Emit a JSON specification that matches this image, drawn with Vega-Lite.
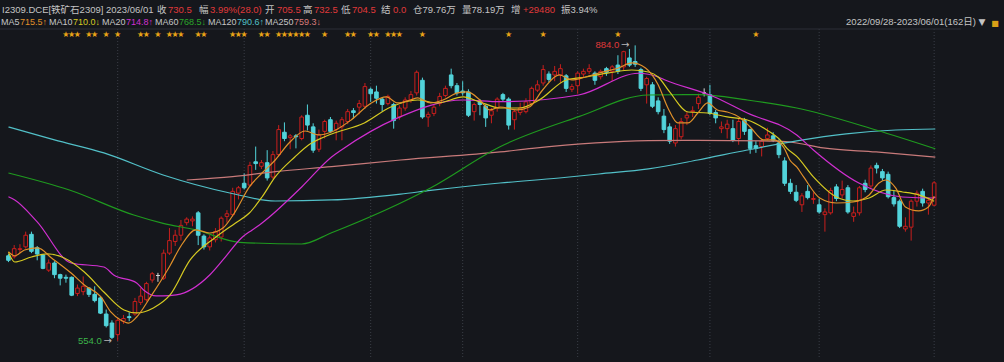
{
"$schema":"https://vega.github.io/schema/vega-lite/v6.json",
"width":961,"height":329,"autosize":"none",
"padding":{"left":0,"top":29,"right":43,"bottom":4},
"background":"#15171c",
"config":{"view":{"stroke":null},"text":{"font":"Liberation Sans, Noto Sans CJK SC"}},
"datasets":{
"k":[
{"i":0,"o":649,"h":651,"l":642,"c":644},{"i":1,"o":648,"h":661,"l":646,"c":657},{"i":2,"o":656,"h":662,"l":652,"c":657},{"i":3,"o":659,"h":676,"l":657,"c":672},{"i":4,"o":673,"h":676,"l":652,"c":654},{"i":5,"o":658,"h":660,"l":644,"c":651},{"i":6,"o":650,"h":651,"l":634,"c":635},{"i":7,"o":633,"h":645,"l":631,"c":641},{"i":8,"o":641,"h":643,"l":624,"c":628},{"i":9,"o":628,"h":629,"l":616,"c":624},
{"i":10,"o":625,"h":628,"l":619,"c":624},{"i":11,"o":625,"h":626,"l":604,"c":605},{"i":12,"o":607,"h":617,"l":604,"c":613},{"i":13,"o":609,"h":626,"l":605,"c":615},{"i":14,"o":613,"h":614,"l":603,"c":606},{"i":15,"o":606,"h":615,"l":597,"c":599},{"i":16,"o":602,"h":604,"l":584,"c":585},{"i":17,"o":584,"h":589,"l":569,"c":571},{"i":18,"o":574,"h":577,"l":556,"c":558},{"i":19,"o":561,"h":580,"l":554,"c":577},
{"i":20,"o":576,"h":583,"l":573,"c":579},{"i":21,"o":581,"h":586,"l":576,"c":580},{"i":22,"o":584,"h":602,"l":582,"c":598},{"i":23,"o":597,"h":613,"l":594,"c":604},{"i":24,"o":600,"h":620,"l":598,"c":618},{"i":25,"o":622,"h":631,"l":619,"c":629},{"i":26,"o":627,"h":630,"l":620,"c":627},{"i":27,"o":624,"h":656,"l":622,"c":652},{"i":28,"o":652,"h":680,"l":650,"c":666},{"i":29,"o":665,"h":678,"l":660,"c":672},
{"i":30,"o":672,"h":689,"l":666,"c":683},{"i":31,"o":686,"h":692,"l":683,"c":690},{"i":32,"o":688,"h":693,"l":682,"c":690},{"i":33,"o":697,"h":699,"l":661,"c":672},{"i":34,"o":671,"h":673,"l":656,"c":659},{"i":35,"o":659,"h":672,"l":655,"c":669},{"i":36,"o":667,"h":680,"l":664,"c":676},{"i":37,"o":670,"h":693,"l":665,"c":691},{"i":38,"o":693,"h":700,"l":686,"c":696},{"i":39,"o":695,"h":725,"l":693,"c":721},
{"i":40,"o":719,"h":727,"l":712,"c":725},{"i":41,"o":730,"h":741,"l":723,"c":725},{"i":42,"o":728,"h":754,"l":726,"c":750},{"i":43,"o":754,"h":771,"l":745,"c":752},{"i":44,"o":749,"h":756,"l":746,"c":753},{"i":45,"o":753,"h":767,"l":733,"c":736},{"i":46,"o":737,"h":766,"l":735,"c":762},{"i":47,"o":762,"h":795,"l":760,"c":790},{"i":48,"o":787,"h":798,"l":777,"c":780},{"i":49,"o":781,"h":785,"l":768,"c":783},
{"i":50,"o":783,"h":785,"l":769,"c":782},{"i":51,"o":780,"h":806,"l":778,"c":804},{"i":52,"o":806,"h":818,"l":789,"c":795},{"i":53,"o":793,"h":797,"l":764,"c":767},{"i":54,"o":768,"h":790,"l":765,"c":784},{"i":55,"o":788,"h":801,"l":780,"c":799},{"i":56,"o":801,"h":804,"l":786,"c":788},{"i":57,"o":790,"h":800,"l":778,"c":797},{"i":58,"o":793,"h":804,"l":778,"c":801},{"i":59,"o":799,"h":813,"l":796,"c":810},
{"i":60,"o":811,"h":814,"l":802,"c":809},{"i":61,"o":815,"h":823,"l":807,"c":819},{"i":62,"o":816,"h":842,"l":813,"c":838},{"i":63,"o":835,"h":837,"l":821,"c":830},{"i":64,"o":832,"h":839,"l":819,"c":825},{"i":65,"o":824,"h":826,"l":810,"c":818},{"i":66,"o":819,"h":829,"l":817,"c":827},{"i":67,"o":818,"h":820,"l":791,"c":800},{"i":68,"o":804,"h":817,"l":801,"c":814},{"i":69,"o":814,"h":826,"l":811,"c":823},
{"i":70,"o":823,"h":833,"l":820,"c":829},{"i":71,"o":831,"h":856,"l":828,"c":854},{"i":72,"o":845,"h":848,"l":802,"c":804},{"i":73,"o":804,"h":810,"l":793,"c":807},{"i":74,"o":808,"h":818,"l":805,"c":815},{"i":75,"o":819,"h":831,"l":816,"c":827},{"i":76,"o":828,"h":839,"l":826,"c":836},{"i":77,"o":851,"h":858,"l":836,"c":839},{"i":78,"o":839,"h":842,"l":828,"c":831},{"i":79,"o":833,"h":844,"l":828,"c":831},
{"i":80,"o":832,"h":835,"l":804,"c":806},{"i":81,"o":810,"h":820,"l":800,"c":818},{"i":82,"o":821,"h":824,"l":806,"c":818},{"i":83,"o":816,"h":818,"l":793,"c":803},{"i":84,"o":806,"h":814,"l":797,"c":811},{"i":85,"o":814,"h":826,"l":810,"c":824},{"i":86,"o":829,"h":831,"l":821,"c":824},{"i":87,"o":824,"h":826,"l":790,"c":795},{"i":88,"o":801,"h":812,"l":790,"c":810},{"i":89,"o":809,"h":820,"l":806,"c":814},
{"i":90,"o":810,"h":825,"l":808,"c":821},{"i":91,"o":819,"h":838,"l":817,"c":836},{"i":92,"o":834,"h":845,"l":832,"c":840},{"i":93,"o":842,"h":862,"l":839,"c":857},{"i":94,"o":852,"h":855,"l":843,"c":846},{"i":95,"o":851,"h":861,"l":844,"c":855},{"i":96,"o":851,"h":863,"l":842,"c":858},{"i":97,"o":850,"h":852,"l":832,"c":836},{"i":98,"o":835,"h":841,"l":832,"c":838},{"i":99,"o":839,"h":855,"l":830,"c":853},
{"i":100,"o":852,"h":858,"l":848,"c":855},{"i":101,"o":855,"h":863,"l":852,"c":858},{"i":102,"o":853,"h":855,"l":840,"c":845},{"i":103,"o":849,"h":857,"l":846,"c":855},{"i":104,"o":858,"h":860,"l":850,"c":854},{"i":105,"o":855,"h":862,"l":844,"c":860},{"i":106,"o":862,"h":873,"l":852,"c":855},{"i":107,"o":860,"h":878,"l":856,"c":877},{"i":108,"o":870,"h":880,"l":860,"c":862},{"i":109,"o":866,"h":884,"l":860,"c":863},
{"i":110,"o":857,"h":859,"l":833,"c":836},{"i":111,"o":840,"h":849,"l":819,"c":847},{"i":112,"o":840,"h":843,"l":814,"c":816},{"i":113,"o":822,"h":826,"l":807,"c":810},{"i":114,"o":805,"h":813,"l":786,"c":790},{"i":115,"o":793,"h":797,"l":774,"c":777},{"i":116,"o":775,"h":795,"l":771,"c":791},{"i":117,"o":782,"h":803,"l":779,"c":799},{"i":118,"o":803,"h":810,"l":795,"c":806},{"i":119,"o":810,"h":816,"l":804,"c":811},
{"i":120,"o":819,"h":830,"l":813,"c":826},{"i":121,"o":831,"h":836,"l":827,"c":831},{"i":122,"o":829,"h":840,"l":806,"c":808},{"i":123,"o":809,"h":812,"l":797,"c":803},{"i":124,"o":791,"h":799,"l":786,"c":793},{"i":125,"o":791,"h":801,"l":780,"c":796},{"i":126,"o":791,"h":801,"l":776,"c":778},{"i":127,"o":780,"h":802,"l":773,"c":799},{"i":128,"o":800,"h":803,"l":784,"c":788},{"i":129,"o":790,"h":791,"l":763,"c":769},
{"i":130,"o":772,"h":777,"l":764,"c":769},{"i":131,"o":771,"h":780,"l":760,"c":777},{"i":132,"o":780,"h":792,"l":778,"c":784},{"i":133,"o":783,"h":787,"l":776,"c":778},{"i":134,"o":775,"h":779,"l":758,"c":762},{"i":135,"o":755,"h":759,"l":727,"c":730},{"i":136,"o":730,"h":735,"l":718,"c":721},{"i":137,"o":720,"h":728,"l":709,"c":711},{"i":138,"o":706,"h":719,"l":698,"c":716},{"i":139,"o":721,"h":728,"l":712,"c":714},
{"i":140,"o":712,"h":720,"l":707,"c":713},{"i":141,"o":706,"h":713,"l":696,"c":698},{"i":142,"o":695,"h":702,"l":676,"c":698},{"i":143,"o":697,"h":725,"l":695,"c":722},{"i":144,"o":726,"h":729,"l":710,"c":713},{"i":145,"o":717,"h":733,"l":713,"c":723},{"i":146,"o":725,"h":728,"l":696,"c":698},{"i":147,"o":693,"h":704,"l":687,"c":697},{"i":148,"o":697,"h":727,"l":694,"c":725},{"i":149,"o":730,"h":734,"l":720,"c":723},
{"i":150,"o":727,"h":750,"l":724,"c":747},{"i":151,"o":750,"h":753,"l":741,"c":747},{"i":152,"o":743,"h":746,"l":733,"c":736},{"i":153,"o":740,"h":743,"l":713,"c":715},{"i":154,"o":714,"h":722,"l":704,"c":707},{"i":155,"o":710,"h":712,"l":680,"c":682},{"i":156,"o":679,"h":692,"l":676,"c":682},{"i":157,"o":681,"h":712,"l":666,"c":710},{"i":158,"o":710,"h":722,"l":704,"c":719},{"i":159,"o":721,"h":724,"l":704,"c":708},
{"i":160,"o":708,"h":714,"l":695,"c":711},{"i":161,"o":705.5,"h":732.5,"l":704.5,"c":730.5}
],
"ma":[
{"s":"MA250","i":31,"v":733.7},{"s":"MA250","i":39,"v":737.4},{"s":"MA250","i":46.4,"v":743},{"s":"MA250","i":56.2,"v":748.6},{"s":"MA250","i":68.2,"v":756},{"s":"MA250","i":85.5,"v":765},{"s":"MA250","i":91.1,"v":769},{"s":"MA250","i":111.3,"v":777.6},{"s":"MA250","i":119.9,"v":778},{"s":"MA250","i":133.7,"v":777},{"s":"MA250","i":137.1,"v":775},{"s":"MA250","i":141.7,"v":769.5},{"s":"MA250","i":150.9,"v":765},{"s":"MA250","i":161.2,"v":759.3},
{"s":"MA120","i":0,"v":792.9},{"s":"MA120","i":8,"v":778.4},{"s":"MA120","i":16.6,"v":763.9},{"s":"MA120","i":26.9,"v":739.3},{"s":"MA120","i":38.5,"v":719.2},{"s":"MA120","i":46.4,"v":710.2},{"s":"MA120","i":56.2,"v":711.4},{"s":"MA120","i":68.2,"v":718},{"s":"MA120","i":73.4,"v":722},{"s":"MA120","i":85.5,"v":730.3},{"s":"MA120","i":95.8,"v":735.9},{"s":"MA120","i":102.7,"v":740.4},{"s":"MA120","i":111.3,"v":746},{"s":"MA120","i":119.9,"v":756},{"s":"MA120","i":128.5,"v":767.2},{"s":"MA120","i":137.1,"v":777.3},{"s":"MA120","i":145.7,"v":785.1},{"s":"MA120","i":154.3,"v":789.5},{"s":"MA120","i":161.2,"v":790.6},
{"s":"MA60","i":0,"v":741.5},{"s":"MA60","i":10.6,"v":722.5},{"s":"MA60","i":21.8,"v":694.6},{"s":"MA60","i":26.9,"v":685.3},{"s":"MA60","i":32.6,"v":677.9},{"s":"MA60","i":40.2,"v":664.1},{"s":"MA60","i":51,"v":662.2},{"s":"MA60","i":56.2,"v":674.8},{"s":"MA60","i":73.4,"v":724.8},{"s":"MA60","i":85.5,"v":770.9},{"s":"MA60","i":99.2,"v":804.4},{"s":"MA60","i":111.3,"v":828.6},{"s":"MA60","i":119.9,"v":829},{"s":"MA60","i":128.5,"v":823},{"s":"MA60","i":137.1,"v":814.1},{"s":"MA60","i":150.9,"v":789.5},{"s":"MA60","i":161.2,"v":768.5},
{"s":"MA20","i":0,"v":715},{"s":"MA20","i":1.1,"v":711.4},{"s":"MA20","i":5,"v":687},{"s":"MA20","i":10.9,"v":641},{"s":"MA20","i":16.6,"v":636.5},{"s":"MA20","i":18.3,"v":627.6},{"s":"MA20","i":22.3,"v":618.7},{"s":"MA20","i":23.5,"v":610.9},{"s":"MA20","i":25.7,"v":604.2},{"s":"MA20","i":26.9,"v":604.2},{"s":"MA20","i":29.2,"v":605.3},{"s":"MA20","i":35,"v":627.6},{"s":"MA20","i":37.3,"v":644.4},{"s":"MA20","i":40.7,"v":670},{"s":"MA20","i":42.4,"v":677.9},{"s":"MA20","i":44.1,"v":685.7},{"s":"MA20","i":51,"v":725.9},{"s":"MA20","i":56.2,"v":759.4},{"s":"MA20","i":57.9,"v":767.2},{"s":"MA20","i":67.7,"v":803},{"s":"MA20","i":79.1,"v":823},{"s":"MA20","i":85.5,"v":821.1},{"s":"MA20","i":99.2,"v":828.6},{"s":"MA20","i":109.6,"v":852.9},{"s":"MA20","i":113,"v":848.7},{"s":"MA20","i":114.2,"v":845.4},{"s":"MA20","i":122.8,"v":826.4},{"s":"MA20","i":128.5,"v":808.5},{"s":"MA20","i":137.1,"v":784},{"s":"MA20","i":140,"v":767.2},{"s":"MA20","i":147.9,"v":730.3},{"s":"MA20","i":155.5,"v":714.7},{"s":"MA20","i":160.8,"v":713.6},{"s":"MA20","i":161.2,"v":714.8},
{"s":"MA10","i":0,"v":653},{"s":"MA10","i":1.1,"v":642.1},{"s":"MA10","i":4,"v":647.7},{"s":"MA10","i":6.8,"v":651.1},{"s":"MA10","i":9.7,"v":646.6},{"s":"MA10","i":13.2,"v":630.9},{"s":"MA10","i":16.6,"v":608.6},{"s":"MA10","i":20.1,"v":588.5},{"s":"MA10","i":22.3,"v":585.2},{"s":"MA10","i":25.2,"v":590.8},{"s":"MA10","i":28.1,"v":605.3},{"s":"MA10","i":31.6,"v":644.4},{"s":"MA10","i":36.1,"v":670},{"s":"MA10","i":39.5,"v":685.7},{"s":"MA10","i":41.9,"v":696.8},{"s":"MA10","i":44.1,"v":714.7},{"s":"MA10","i":46.4,"v":737.1},{"s":"MA10","i":49.8,"v":759.4},{"s":"MA10","i":52.2,"v":772.8},{"s":"MA10","i":54.5,"v":780.6},{"s":"MA10","i":56.2,"v":785.1},{"s":"MA10","i":61.9,"v":797.4},{"s":"MA10","i":66.5,"v":815.2},{"s":"MA10","i":71.2,"v":823},{"s":"MA10","i":74.6,"v":819.7},{"s":"MA10","i":79.1,"v":826.4},{"s":"MA10","i":82,"v":820.8},{"s":"MA10","i":85.5,"v":814.1},{"s":"MA10","i":88.9,"v":814.1},{"s":"MA10","i":92.3,"v":823},{"s":"MA10","i":97,"v":845.4},{"s":"MA10","i":100.4,"v":848.7},{"s":"MA10","i":104.4,"v":853.2},{"s":"MA10","i":108.4,"v":856.5},{"s":"MA10","i":111.3,"v":854.3},{"s":"MA10","i":113,"v":848.7},{"s":"MA10","i":115,"v":832},{"s":"MA10","i":118.2,"v":809.6},{"s":"MA10","i":121.6,"v":808.5},{"s":"MA10","i":125,"v":804.1},{"s":"MA10","i":128.5,"v":800.7},{"s":"MA10","i":131.9,"v":789.5},{"s":"MA10","i":134.2,"v":778.4},{"s":"MA10","i":135.4,"v":769},{"s":"MA10","i":137.1,"v":760},{"s":"MA10","i":140,"v":737.1},{"s":"MA10","i":144,"v":714.7},{"s":"MA10","i":146.9,"v":710.2},{"s":"MA10","i":149.7,"v":713.6},{"s":"MA10","i":152.6,"v":722.5},{"s":"MA10","i":155.5,"v":720.3},{"s":"MA10","i":158.3,"v":717},{"s":"MA10","i":161,"v":710},
{"s":"MA5","i":0,"v":653.6},{"s":"MA5","i":1.1,"v":649},{"s":"MA5","i":2.8,"v":655.5},{"s":"MA5","i":5.1,"v":657.8},{"s":"MA5","i":7.5,"v":646.6},{"s":"MA5","i":10.9,"v":629.8},{"s":"MA5","i":13.2,"v":616.4},{"s":"MA5","i":16.1,"v":603.1},{"s":"MA5","i":17.8,"v":586.3},{"s":"MA5","i":19.5,"v":577.3},{"s":"MA5","i":20.9,"v":573.9},{"s":"MA5","i":22.3,"v":580.7},{"s":"MA5","i":24.7,"v":603.1},{"s":"MA5","i":28.1,"v":638},{"s":"MA5","i":30,"v":660},{"s":"MA5","i":32.6,"v":678},{"s":"MA5","i":35,"v":674.5},{"s":"MA5","i":37.3,"v":680},{"s":"MA5","i":39.5,"v":699},{"s":"MA5","i":41.9,"v":726},{"s":"MA5","i":44.1,"v":741.5},{"s":"MA5","i":46.4,"v":756},{"s":"MA5","i":48.8,"v":775},{"s":"MA5","i":51.6,"v":788.4},{"s":"MA5","i":53.96,"v":784},{"s":"MA5","i":56.2,"v":787.3},{"s":"MA5","i":59.6,"v":800.7},{"s":"MA5","i":63.1,"v":819.7},{"s":"MA5","i":65.7,"v":826.4},{"s":"MA5","i":67.7,"v":819.7},{"s":"MA5","i":69.9,"v":823},{"s":"MA5","i":71.2,"v":825.3},{"s":"MA5","i":73.4,"v":819.7},{"s":"MA5","i":75.6,"v":823},{"s":"MA5","i":78.1,"v":830.9},{"s":"MA5","i":79.8,"v":832},{"s":"MA5","i":82,"v":823},{"s":"MA5","i":83.7,"v":811.9},{"s":"MA5","i":85.5,"v":815.2},{"s":"MA5","i":88.4,"v":811.9},{"s":"MA5","i":90.6,"v":815.2},{"s":"MA5","i":92.9,"v":834.2},{"s":"MA5","i":95.8,"v":851},{"s":"MA5","i":98,"v":845.4},{"s":"MA5","i":100.4,"v":848.7},{"s":"MA5","i":102.7,"v":853.2},{"s":"MA5","i":106.1,"v":858.8},{"s":"MA5","i":108.4,"v":864.4},{"s":"MA5","i":110.8,"v":858.8},{"s":"MA5","i":113,"v":840},{"s":"MA5","i":114.7,"v":814.1},{"s":"MA5","i":116.4,"v":797.4},{"s":"MA5","i":118.2,"v":797.4},{"s":"MA5","i":119.9,"v":808.5},{"s":"MA5","i":121.6,"v":819.7},{"s":"MA5","i":123.3,"v":811.9},{"s":"MA5","i":125,"v":809.6},{"s":"MA5","i":127.3,"v":803},{"s":"MA5","i":129,"v":792.9},{"s":"MA5","i":131.4,"v":778.4},{"s":"MA5","i":133.1,"v":778.4},{"s":"MA5","i":134.9,"v":769.4},{"s":"MA5","i":135.9,"v":756},{"s":"MA5","i":137.1,"v":748.2},{"s":"MA5","i":138.3,"v":737.1},{"s":"MA5","i":141.1,"v":713.6},{"s":"MA5","i":144,"v":708},{"s":"MA5","i":146.9,"v":709.1},{"s":"MA5","i":149.7,"v":717},{"s":"MA5","i":151.4,"v":730.3},{"s":"MA5","i":152.6,"v":733.7},{"s":"MA5","i":154.3,"v":724.8},{"s":"MA5","i":156,"v":703.5},{"s":"MA5","i":158.3,"v":699.1},{"s":"MA5","i":160,"v":703.5},{"s":"MA5","i":161,"v":715.5}
],
"months":[{"i":19},{"i":41},{"i":63},{"i":79},{"i":99},{"i":122},{"i":141},{"i":161}],
"stars":[{"i":10},{"i":11},{"i":12},{"i":14},{"i":15},{"i":17},{"i":19},{"i":23},{"i":24},{"i":26},{"i":28},{"i":29},{"i":30},{"i":33},{"i":34},{"i":39},{"i":40},{"i":41},{"i":44},{"i":45},{"i":47},{"i":48},{"i":49},{"i":50},{"i":51},{"i":52},{"i":55},{"i":59},{"i":60},{"i":63},{"i":64},{"i":66},{"i":67},{"i":68},{"i":72},{"i":87},{"i":93},{"i":106},{"i":130}],
"ann":[{"i":109,"v":884,"t":"884.0","k":"hi"},{"i":19,"v":554,"t":"554.0","k":"lo"}]
},
"layer":[
{"data":{"name":"months"},"mark":{"type":"rule","color":"#3a3e47","strokeDash":[1,2],"strokeWidth":1},
 "encoding":{"x":{"field":"i","type":"quantitative","scale":{"type":"linear","domain":[-0.6,164.8],"nice":false,"zero":false},"axis":null}}},
{"data":{"values":[{}]},"mark":{"type":"rule","color":"#2c2f36","strokeWidth":1},
 "encoding":{"y":{"datum":902.3,"type":"quantitative","scale":{"type":"linear","domain":[534.9,902.3],"nice":false,"zero":false},"axis":null}}},
{"data":{"name":"k"},"mark":{"type":"rule","strokeWidth":1},
 "encoding":{
  "x":{"field":"i","type":"quantitative","scale":{"type":"linear","domain":[-0.6,164.8],"nice":false,"zero":false},"axis":null},
  "y":{"field":"l","type":"quantitative","scale":{"type":"linear","domain":[534.9,902.3],"nice":false,"zero":false},
   "axis":{"orient":"right","values":[555,620,685,750,815,880],"grid":true,"gridColor":"#3b3f48","gridDash":[1,2],"ticks":false,"domain":true,"domainColor":"#3b3e45","labelColor":"#a7a8ab","labelFontSize":10,"labelFont":"Liberation Sans","labelPadding":4,"title":null}},
  "y2":{"field":"h"},
  "color":{"condition":[{"test":"datum.c == datum.o","value":"#d8d8d8"},{"test":"datum.c > datum.o","value":"#c81f1d"}],"value":"#52d3da"}}},
{"data":{"name":"k"},"mark":{"type":"bar","size":3.6,"strokeWidth":1},
 "encoding":{
  "x":{"field":"i","type":"quantitative","scale":{"type":"linear","domain":[-0.6,164.8],"nice":false,"zero":false},"axis":null},
  "y":{"field":"o","type":"quantitative","scale":{"type":"linear","domain":[534.9,902.3],"nice":false,"zero":false},"axis":null},
  "y2":{"field":"c"},
  "fill":{"condition":[{"test":"datum.c == datum.o","value":"#d8d8d8"},{"test":"datum.c > datum.o","value":"#15171c"}],"value":"#52d3da"},
  "stroke":{"condition":[{"test":"datum.c == datum.o","value":"#d8d8d8"},{"test":"datum.c > datum.o","value":"#c81f1d"}],"value":"#52d3da"}}},
{"data":{"name":"ma"},"mark":{"type":"line","strokeWidth":1.2,"interpolate":"monotone","clip":true},
 "encoding":{
  "x":{"field":"i","type":"quantitative","scale":{"type":"linear","domain":[-0.6,164.8],"nice":false,"zero":false},"axis":null},
  "y":{"field":"v","type":"quantitative","scale":{"type":"linear","domain":[534.9,902.3],"nice":false,"zero":false},"axis":null},
  "color":{"field":"s","type":"nominal","scale":{"domain":["MA5","MA10","MA20","MA60","MA120","MA250"],"range":["#e0902a","#d6ca22","#d02fd0","#1f9a1f","#52c0c8","#c87a7a"]},"legend":null}}},
{"data":{"name":"ann"},"mark":{"type":"text","align":"right","baseline":"middle","dx":-16,"fontSize":9.5},
 "encoding":{
  "x":{"field":"i","type":"quantitative","scale":{"type":"linear","domain":[-0.6,164.8],"nice":false,"zero":false},"axis":null},
  "y":{"field":"v","type":"quantitative","scale":{"type":"linear","domain":[534.9,902.3],"nice":false,"zero":false},"axis":null},
  "text":{"field":"t"},
  "color":{"condition":{"test":"datum.k == 'hi'","value":"#e0393a"},"value":"#3cb44a"}}},
{"data":{"name":"ann"},"mark":{"type":"text","align":"center","baseline":"middle","dx":-10,"fontSize":10,"font":"DejaVu Sans","text":"→","color":"#b8b8b8"},
 "encoding":{
  "x":{"field":"i","type":"quantitative","scale":{"type":"linear","domain":[-0.6,164.8],"nice":false,"zero":false},"axis":null},
  "y":{"field":"v","type":"quantitative","scale":{"type":"linear","domain":[534.9,902.3],"nice":false,"zero":false},"axis":null}}},
{"data":{"name":"stars"},"mark":{"type":"text","text":"★","font":"DejaVu Sans","fontSize":8,"color":"#e8a317","baseline":"middle"},
 "encoding":{
  "x":{"field":"i","type":"quantitative","scale":{"type":"linear","domain":[-0.6,164.8],"nice":false,"zero":false},"axis":null},
  "y":{"value":6}}},
{"data":{"values":[{}]},"mark":{"type":"text","text":"I2309.DCE[铁矿石2309]","x":2,"y":-19,"align":"left","baseline":"middle","fontSize":9.5,"color":"#c4c4c4"}},
{"data":{"values":[{}]},"mark":{"type":"text","text":"2023/06/01","x":106,"y":-19,"align":"left","baseline":"middle","fontSize":9.5,"color":"#c4c4c4"}},
{"data":{"values":[{}]},"mark":{"type":"text","text":"收","x":157,"y":-19,"align":"left","baseline":"middle","fontSize":9.5,"color":"#c4c4c4"}},
{"data":{"values":[{}]},"mark":{"type":"text","text":"730.5","x":168,"y":-19,"align":"left","baseline":"middle","fontSize":9.5,"color":"#e0393a"}},
{"data":{"values":[{}]},"mark":{"type":"text","text":"幅","x":199,"y":-19,"align":"left","baseline":"middle","fontSize":9.5,"color":"#c4c4c4"}},
{"data":{"values":[{}]},"mark":{"type":"text","text":"3.99%(28.0)","x":210,"y":-19,"align":"left","baseline":"middle","fontSize":9.5,"color":"#e0393a"}},
{"data":{"values":[{}]},"mark":{"type":"text","text":"开","x":265,"y":-19,"align":"left","baseline":"middle","fontSize":9.5,"color":"#c4c4c4"}},
{"data":{"values":[{}]},"mark":{"type":"text","text":"705.5","x":277,"y":-19,"align":"left","baseline":"middle","fontSize":9.5,"color":"#e0393a"}},
{"data":{"values":[{}]},"mark":{"type":"text","text":"高","x":303,"y":-19,"align":"left","baseline":"middle","fontSize":9.5,"color":"#c4c4c4"}},
{"data":{"values":[{}]},"mark":{"type":"text","text":"732.5","x":314,"y":-19,"align":"left","baseline":"middle","fontSize":9.5,"color":"#e0393a"}},
{"data":{"values":[{}]},"mark":{"type":"text","text":"低","x":341,"y":-19,"align":"left","baseline":"middle","fontSize":9.5,"color":"#c4c4c4"}},
{"data":{"values":[{}]},"mark":{"type":"text","text":"704.5","x":352,"y":-19,"align":"left","baseline":"middle","fontSize":9.5,"color":"#e0393a"}},
{"data":{"values":[{}]},"mark":{"type":"text","text":"结","x":381,"y":-19,"align":"left","baseline":"middle","fontSize":9.5,"color":"#c4c4c4"}},
{"data":{"values":[{}]},"mark":{"type":"text","text":"0.0","x":393,"y":-19,"align":"left","baseline":"middle","fontSize":9.5,"color":"#e0393a"}},
{"data":{"values":[{}]},"mark":{"type":"text","text":"仓79.76万","x":413,"y":-19,"align":"left","baseline":"middle","fontSize":9.5,"color":"#c4c4c4"}},
{"data":{"values":[{}]},"mark":{"type":"text","text":"量78.19万","x":462,"y":-19,"align":"left","baseline":"middle","fontSize":9.5,"color":"#c4c4c4"}},
{"data":{"values":[{}]},"mark":{"type":"text","text":"增","x":511,"y":-19,"align":"left","baseline":"middle","fontSize":9.5,"color":"#c4c4c4"}},
{"data":{"values":[{}]},"mark":{"type":"text","text":"+29480","x":523,"y":-19,"align":"left","baseline":"middle","fontSize":9.5,"color":"#e0393a"}},
{"data":{"values":[{}]},"mark":{"type":"text","text":"振3.94%","x":561,"y":-19,"align":"left","baseline":"middle","fontSize":9.5,"color":"#c4c4c4"}},
{"data":{"values":[{}]},"mark":{"type":"text","text":"MA5","x":1,"y":-7,"align":"left","baseline":"middle","fontSize":9,"color":"#c4c4c4"}},
{"data":{"values":[{}]},"mark":{"type":"text","text":"715.5↑","x":20,"y":-7,"align":"left","baseline":"middle","fontSize":9,"color":"#e0902a"}},
{"data":{"values":[{}]},"mark":{"type":"text","text":"MA10","x":49,"y":-7,"align":"left","baseline":"middle","fontSize":9,"color":"#c4c4c4"}},
{"data":{"values":[{}]},"mark":{"type":"text","text":"710.0↓","x":73,"y":-7,"align":"left","baseline":"middle","fontSize":9,"color":"#d6ca22"}},
{"data":{"values":[{}]},"mark":{"type":"text","text":"MA20","x":102,"y":-7,"align":"left","baseline":"middle","fontSize":9,"color":"#c4c4c4"}},
{"data":{"values":[{}]},"mark":{"type":"text","text":"714.8↑","x":126,"y":-7,"align":"left","baseline":"middle","fontSize":9,"color":"#d02fd0"}},
{"data":{"values":[{}]},"mark":{"type":"text","text":"MA60","x":155,"y":-7,"align":"left","baseline":"middle","fontSize":9,"color":"#c4c4c4"}},
{"data":{"values":[{}]},"mark":{"type":"text","text":"768.5↓","x":179,"y":-7,"align":"left","baseline":"middle","fontSize":9,"color":"#2aa52a"}},
{"data":{"values":[{}]},"mark":{"type":"text","text":"MA120","x":208,"y":-7,"align":"left","baseline":"middle","fontSize":9,"color":"#c4c4c4"}},
{"data":{"values":[{}]},"mark":{"type":"text","text":"790.6↑","x":237,"y":-7,"align":"left","baseline":"middle","fontSize":9,"color":"#52c0c8"}},
{"data":{"values":[{}]},"mark":{"type":"text","text":"MA250","x":265,"y":-7,"align":"left","baseline":"middle","fontSize":9,"color":"#c4c4c4"}},
{"data":{"values":[{}]},"mark":{"type":"text","text":"759.3↓","x":294,"y":-7,"align":"left","baseline":"middle","fontSize":9,"color":"#d87a7a"}},
{"data":{"values":[{}]},"mark":{"type":"text","text":"2022/09/28-2023/06/01(162日)","x":976,"y":-7,"align":"right","baseline":"middle","fontSize":9.5,"color":"#c4c4c4"}},
{"data":{"values":[{}]},"mark":{"type":"rule","x":862,"x2":976,"y":-1,"y2":-1,"color":"#c4c4c4","strokeWidth":1},"encoding":{}},
{"data":{"values":[{}]},"mark":{"type":"text","text":"▼","x":982,"y":-7,"align":"center","baseline":"middle","fontSize":9,"font":"DejaVu Sans","color":"#c4c4c4"}},
{"data":{"values":[{}]},"mark":{"type":"text","text":"■","x":995,"y":-5,"align":"center","baseline":"middle","fontSize":8,"font":"DejaVu Sans","color":"#d9a017"}}
]
}
